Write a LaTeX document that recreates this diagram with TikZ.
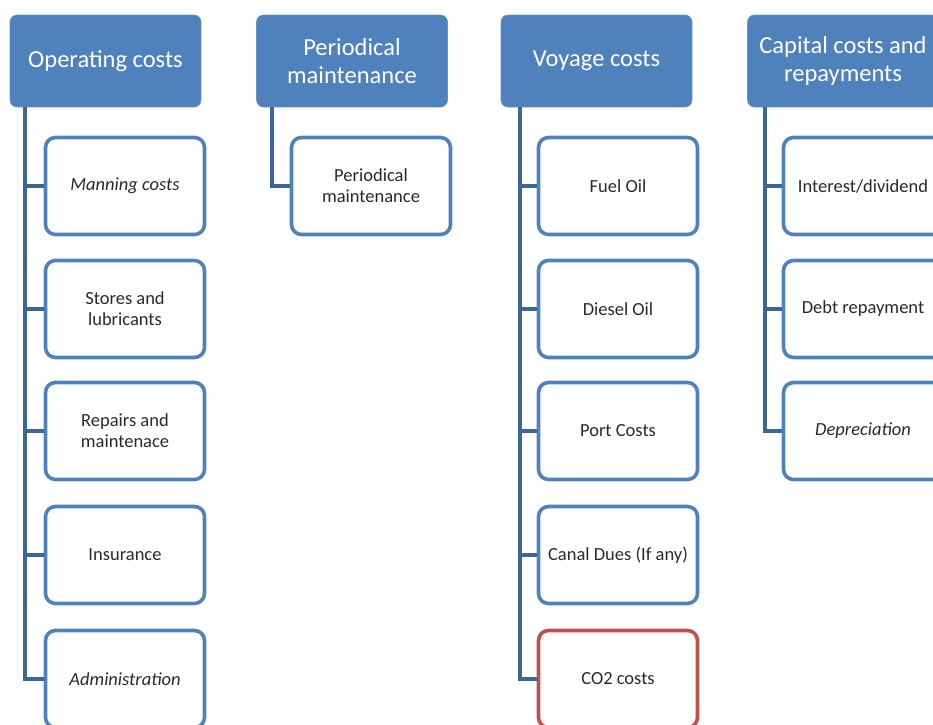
\documentclass[tikz,border=0pt]{standalone}
\usepackage{fontspec}
\setmainfont{Carlito}
\definecolor{hdrblue}{HTML}{4F81BD}
\definecolor{lineblue}{HTML}{3B6698}
\definecolor{boxred}{HTML}{C0504D}
\definecolor{txt}{HTML}{2A2A2A}
\begin{document}
\begin{tikzpicture}[x=1pt,y=-1pt,
  hdr/.style={rectangle,rounded corners=7pt,fill=hdrblue,draw=hdrblue!85!white,line width=0.6pt,
    minimum width=191pt,minimum height=92pt,text=white,align=center,
    font=\fontsize{24.5}{28}\selectfont,inner sep=1pt},
  item/.style={rectangle,rounded corners=10pt,fill=white,draw=hdrblue,line width=3.6pt,
    minimum width=159pt,minimum height=97pt,text=txt,align=center,
    font=\fontsize{18.5}{21}\selectfont,inner sep=1pt},
  reditem/.style={item,draw=boxred},
  conn/.style={draw=lineblue,line width=4.5pt,line cap=butt}]
\useasboundingbox (0,0) rectangle (933,724);
\clip (0,0) rectangle (933,724);
% headers
\node[hdr] (op) at (105.5,61) {Operating costs};
\node[hdr] (pm) at (352,61) {Periodical\\maintenance};
\node[hdr] (vc) at (596.5,61) {Voyage costs};
\node[hdr] (cc) at (843,61) {Capital costs and\\repayments};
% spine tops
\coordinate (opS) at (25,107);
\coordinate (pmS) at (272,107);
\coordinate (vcS) at (520,107);
\coordinate (ccS) at (765,107);
% operating children
\node[item] (o1) at (125,186) {\itshape Manning costs};
\node[item] (o2) at (125,309) {Stores and\\lubricants};
\node[item] (o3) at (125,431) {Repairs and\\maintenace};
\node[item] (o4) at (125,555) {Insurance};
\node[item] (o5) at (125,679) {\itshape Administration};
% periodical child
\node[item] (p1) at (371,186) {Periodical\\maintenance};
% voyage children
\node[item] (v1) at (618,186) {Fuel Oil};
\node[item] (v2) at (618,309) {Diesel Oil};
\node[item] (v3) at (618,431) {Port Costs};
\node[item] (v4) at (618,555) {Canal Dues (If any)};
\node[reditem] (v5) at (618,679) {CO2 costs};
% capital children
\node[item] (c1) at (863,186) {Interest/dividend};
\node[item] (c2) at (863,309) {Debt repayment};
\node[item] (c3) at (863,431) {\itshape Depreciation};
% connectors
\foreach \s/\c in {opS/o1,opS/o2,opS/o3,opS/o4,opS/o5,pmS/p1,vcS/v1,vcS/v2,vcS/v3,vcS/v4,vcS/v5,ccS/c1,ccS/c2,ccS/c3}{
  \draw[conn] (\s) |- (\c.west);
}
\end{tikzpicture}
\end{document}
